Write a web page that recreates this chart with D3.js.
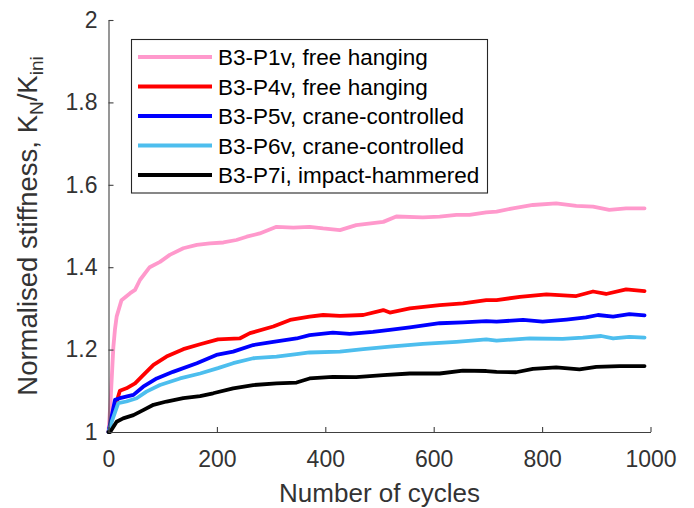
<!DOCTYPE html>
<html>
<head>
<meta charset="utf-8">
<script src="https://cdn.jsdelivr.net/npm/d3@7"></script>
<style>
  html, body { margin: 0; padding: 0; background: #fff; }
  svg { display: block; font-family: "Liberation Sans", Arial, Helvetica, sans-serif; }
</style>
</head>
<body>
<svg id="chart" width="694" height="508"></svg>
<script>
// ---- data ----
const seriesNames = [
  "B3-P1v, free hanging",
  "B3-P4v, free hanging",
  "B3-P5v, crane-controlled",
  "B3-P6v, crane-controlled",
  "B3-P7i, impact-hammered"
];
const seriesColors = ["#ff99cc", "#ff0000", "#0000ff", "#4dbeee", "#000000"];

const p1Cycles = [0,4,9,12,15,24,40,49,58,76,95,113,138,163,187,212,236,255,279,310,341,371,396,427,457,507,531,580,611,642,666,697,716,746,783,826,863,894,924,955,989];
const p1Values = [1.0,1.08,1.207,1.25,1.28,1.32,1.337,1.345,1.369,1.40,1.413,1.43,1.446,1.454,1.458,1.46,1.466,1.474,1.482,1.498,1.496,1.498,1.494,1.49,1.502,1.51,1.523,1.521,1.523,1.527,1.527,1.533,1.535,1.543,1.551,1.555,1.549,1.547,1.539,1.543,1.543];

const p4Cycles = [0,12,21,33,49,64,83,107,138,169,202,242,261,304,335,371,396,427,470,507,519,556,611,654,697,716,759,808,863,894,918,955,989];
const p4Values = [1.0,1.06,1.10,1.106,1.118,1.138,1.163,1.183,1.201,1.213,1.225,1.227,1.24,1.256,1.272,1.28,1.284,1.282,1.284,1.296,1.29,1.30,1.308,1.312,1.32,1.32,1.328,1.334,1.33,1.341,1.335,1.346,1.342];

const p5Cycles = [0,12,21,46,64,89,119,163,199,230,267,304,347,371,414,445,488,519,556,611,654,697,716,765,801,845,881,903,931,961,989];
const p5Values = [1.0,1.078,1.082,1.09,1.11,1.13,1.146,1.167,1.187,1.195,1.211,1.219,1.227,1.235,1.241,1.238,1.243,1.248,1.254,1.264,1.266,1.269,1.268,1.272,1.268,1.273,1.278,1.284,1.28,1.286,1.283];

const p6Cycles = [0,6,18,33,52,70,95,132,169,202,230,267,310,347,371,427,470,519,580,642,697,716,777,838,875,909,931,961,989];
const p6Values = [1.0,1.025,1.07,1.074,1.082,1.098,1.114,1.13,1.142,1.155,1.167,1.179,1.183,1.189,1.193,1.195,1.201,1.207,1.214,1.219,1.225,1.222,1.227,1.226,1.229,1.233,1.227,1.231,1.229];

const p7Cycles = [0,3,15,27,46,64,83,107,138,169,193,230,267,310,347,371,414,457,507,556,611,654,697,716,752,783,826,869,900,943,989];
const p7Values = [1.0,1.0,1.025,1.033,1.041,1.053,1.066,1.074,1.082,1.087,1.094,1.106,1.114,1.118,1.12,1.13,1.134,1.133,1.138,1.142,1.142,1.149,1.148,1.146,1.145,1.153,1.157,1.152,1.158,1.16,1.16];

const xTicks = [0, 200, 400, 600, 800, 1000];
const yTicks = [1, 1.2, 1.4, 1.6, 1.8, 2];
const xLabel = "Number of cycles";

// ---- build ----
const allCycles = [p1Cycles, p4Cycles, p5Cycles, p6Cycles, p7Cycles];
const allValues = [p1Values, p4Values, p5Values, p6Values, p7Values];
const series = seriesNames.map((name, i) => ({
  name, color: seriesColors[i],
  points: allCycles[i].map((c, j) => [c, allValues[i][j]])
}));

const svg = d3.select("#chart");
const x = d3.scaleLinear().domain([0, 1000]).range([108.5, 650.5]);
const y = d3.scaleLinear().domain([1, 2]).range([432, 20]);

const axisColor = "#404040";

// lines
const line = d3.line().x(d => x(d[0])).y(d => y(d[1]));
svg.append("g").selectAll("path").data(series).join("path")
  .attr("d", d => line(d.points))
  .attr("fill", "none")
  .attr("stroke", d => d.color)
  .attr("stroke-width", 3.8)
  .attr("stroke-linejoin", "round")
  .attr("stroke-linecap", "round");

// axes
const xAxis = svg.append("g").attr("transform", `translate(0,${y(1)})`)
  .call(d3.axisBottom(x).tickValues(xTicks).tickSize(-5).tickPadding(24).tickSizeOuter(0).tickFormat(d3.format("d")));
const yAxis = svg.append("g").attr("transform", `translate(${x(0)},0)`)
  .call(d3.axisLeft(y).tickValues(yTicks).tickSize(-5).tickPadding(11).tickSizeOuter(0).tickFormat(d => d3.format("")(d)));
[xAxis, yAxis].forEach(g => {
  g.select(".domain").attr("stroke", axisColor).attr("stroke-width", 1.1);
  g.selectAll(".tick line").attr("stroke", axisColor).attr("stroke-width", 1.1);
  g.selectAll(".tick text").attr("fill", "#333333").attr("font-size", 23)
    .attr("font-family", "'Liberation Sans', Arial, sans-serif");
});
xAxis.selectAll(".tick text").attr("dy", "0.71em").attr("y", 19);

// x label
svg.append("text").attr("x", (x(0) + x(1000)) / 2).attr("y", 502)
  .attr("text-anchor", "middle").attr("font-size", 26).attr("fill", "#333333")
  .text(xLabel);

// y label
const yl = svg.append("text")
  .attr("transform", `translate(37,${(y(1) + y(2)) / 2}) rotate(-90)`)
  .attr("text-anchor", "middle").attr("font-size", 27.5).attr("fill", "#333333");
yl.append("tspan").text("Normalised stiffness, K");
yl.append("tspan").attr("font-size", 19).attr("dy", 6).text("N");
yl.append("tspan").attr("dy", -6).text("/K");
yl.append("tspan").attr("font-size", 19).attr("dy", 6).text("ini");

// legend
const leg = svg.append("g");
leg.append("rect").attr("x", 131.5).attr("y", 39.5).attr("width", 356).attr("height", 153.5)
  .attr("fill", "#fff").attr("stroke", "#262626").attr("stroke-width", 1.1);
const rows = leg.selectAll("g.row").data(series).join("g").attr("class", "row")
  .attr("transform", (d, i) => `translate(0,${57 + i * 29.5})`);
rows.append("line").attr("x1", 138).attr("x2", 212).attr("y1", 0).attr("y2", 0)
  .attr("stroke", d => d.color).attr("stroke-width", 3.8);
rows.append("text").attr("x", 218).attr("y", 0).attr("dy", "0.36em")
  .attr("font-size", 22.5).attr("fill", "#000").text(d => d.name);
</script>
</body>
</html>
